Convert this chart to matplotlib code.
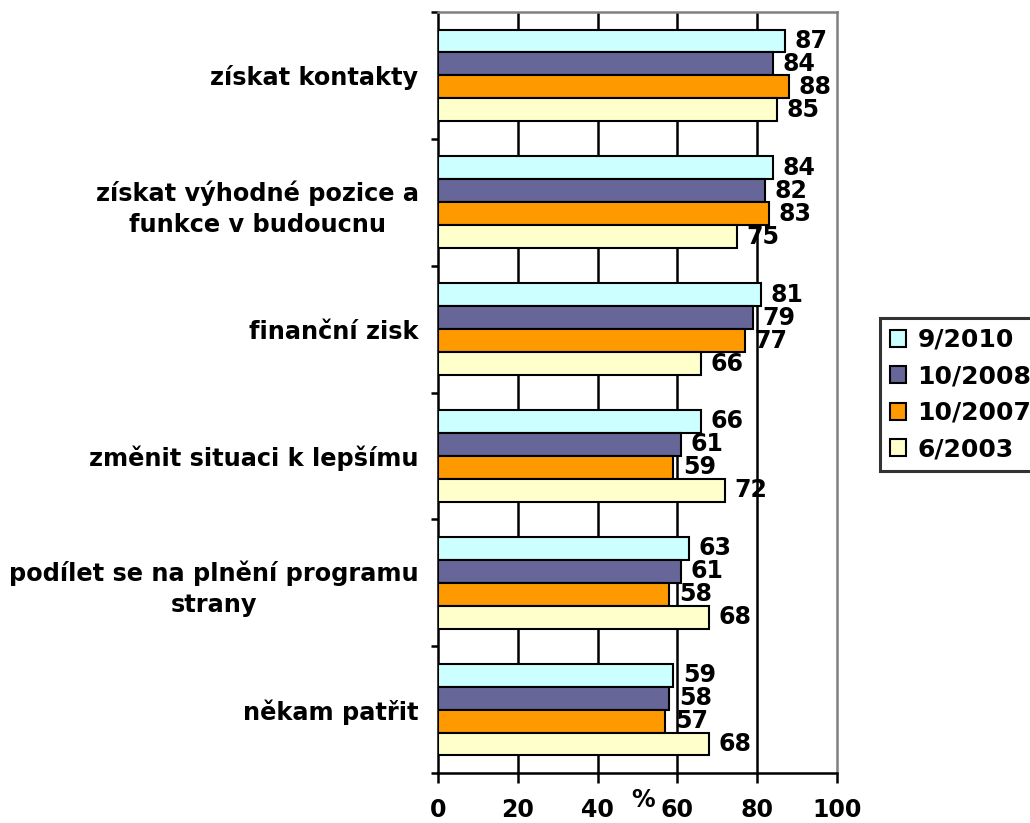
"""Grouped horizontal bar chart: motives for party membership."""
import matplotlib.pyplot as plt
import numpy as np

categories = [
    "získat kontakty",
    "získat výhodné pozice a\nfunkce v budoucnu",
    "finanční zisk",
    "změnit situaci k lepšímu",
    "podílet se na plnění programu\nstrany",
    "někam patřit",
]
series_names = ["9/2010", "10/2008", "10/2007", "6/2003"]
v_2010 = [87, 84, 81, 66, 63, 59]
v_2008 = [84, 82, 79, 61, 61, 58]
v_2007 = [88, 83, 77, 59, 58, 57]
v_2003 = [85, 75, 66, 72, 68, 68]
x_ticks = [0, 20, 40, 60, 80, 100]

COLORS = ["#CCFFFF", "#666699", "#FF9900", "#FFFFCC"]
FONT = "DejaVu Sans"


def main() -> None:
    plt.rcParams["font.family"] = FONT
    plt.rcParams["font.weight"] = "bold"

    fig = plt.figure(figsize=(10.3, 8.23), dpi=100)
    ax = fig.add_axes([438 / 1030, 1 - 773 / 823, 399 / 1030, 761 / 823])

    values = [v_2010, v_2008, v_2007, v_2003]
    y = np.arange(len(categories))
    h = 0.181
    for k, (name, vals, col) in enumerate(zip(series_names, values, COLORS)):
        pos = y + (k - 1.5) * h
        ax.barh(pos, vals, height=h, color=col, edgecolor="black",
                linewidth=1.5, label=name, zorder=3)
        for p, v in zip(pos, vals):
            ax.text(v + 2.4, p, str(v), va="center", ha="left",
                    fontsize=17, fontweight="bold", zorder=4)

    ax.set_xlim(0, 100)
    ax.set_ylim(len(categories) - 0.5, -0.5)
    ax.set_xticks(x_ticks)
    ax.set_xticklabels([str(t) for t in x_ticks], fontsize=17, fontweight="bold")
    ax.tick_params(axis="x", direction="out", length=7, width=1.8, pad=11)

    ax.set_yticks(y)
    ax.set_yticklabels(categories, fontsize=17.3, fontweight="bold")
    for lbl in ax.get_yticklabels():
        lbl.set_multialignment("center")
        lbl.set_linespacing(1.38)
    ax.tick_params(axis="y", which="major", length=0, pad=14)
    ax.set_yticks(np.arange(len(categories) + 1) - 0.5, minor=True)
    ax.tick_params(axis="y", which="minor", direction="out", length=5, width=1.8)

    for t in x_ticks[1:-1]:
        ax.axvline(t, color="black", linewidth=1.8, zorder=1)

    ax.spines["left"].set_linewidth(1.8)
    ax.spines["bottom"].set_linewidth(1.8)
    ax.spines["top"].set_color("#808080")
    ax.spines["right"].set_color("#808080")
    ax.spines["top"].set_linewidth(1.8)
    ax.spines["right"].set_linewidth(1.8)

    fig.text(643 / 1030, 1 - 800 / 823, "%", ha="center", va="center",
             fontsize=17, fontweight="bold")

    leg = fig.legend(loc="upper left", bbox_to_anchor=(880 / 1030, 1 - 318 / 823),
                     fontsize=18, frameon=True, fancybox=False,
                     handlelength=0.65, handleheight=0.65, handletextpad=0.45,
                     borderpad=0.4, labelspacing=0.5, borderaxespad=0)
    leg.get_frame().set_edgecolor("black")
    leg.get_frame().set_linewidth(2.2)
    for t in leg.get_texts():
        t.set_fontweight("bold")

    fig.savefig("out.png", dpi=100)
    plt.close(fig)


if __name__ == "__main__":
    main()
